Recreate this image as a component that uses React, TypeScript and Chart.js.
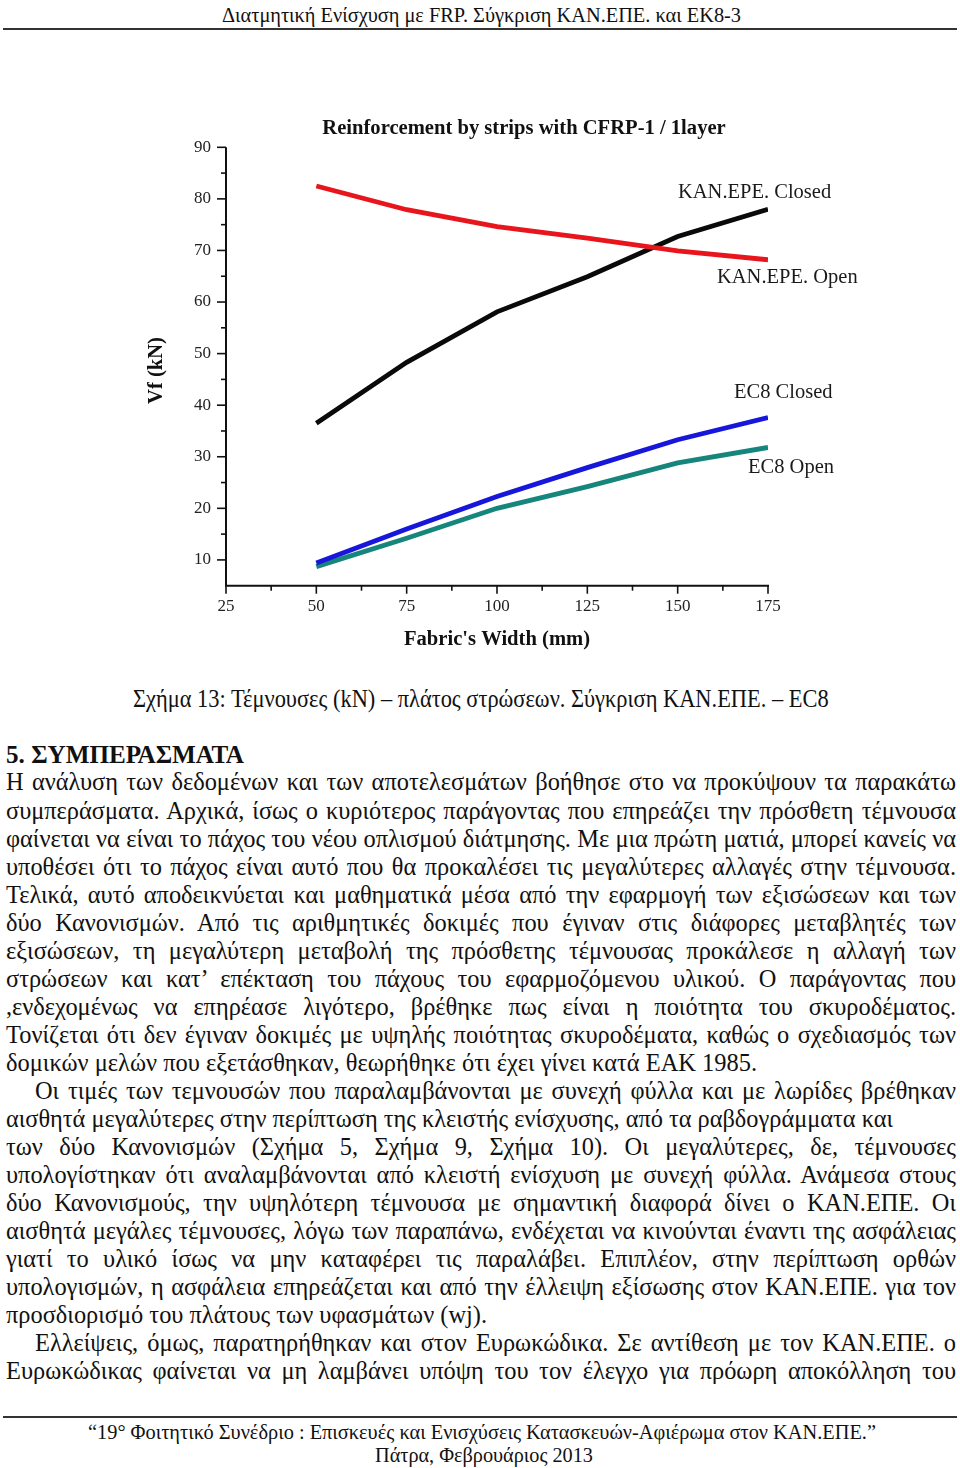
import React, { useEffect, useRef, useMemo } from 'react';
import { Chart, registerables } from 'chart.js';
Chart.register(...registerables);

const SERIF = '"Liberation Serif", "Times New Roman", Times, serif';

// ---- chart data ----
const fabricWidths = [50, 75, 100, 125, 150, 175];
const kanEpeOpen = [82.5, 77.9, 74.6, 72.4, 69.9, 68.2];
const kanEpeClosed = [36.5, 48.3, 58.1, 64.9, 72.7, 78.0];
const ec8Closed = [9.4, 16.0, 22.3, 27.9, 33.3, 37.6];
const ec8Open = [8.7, 14.2, 20.0, 24.2, 28.8, 31.8];
const xTickValues = [25, 50, 75, 100, 125, 150, 175];
const yTickValues = [10, 20, 30, 40, 50, 60, 70, 80, 90];
const xMinorTicks = [37.5, 62.5, 87.5, 112.5, 137.5, 162.5];
const yMinorTicks = [15, 25, 35, 45, 55, 65, 75, 85];
const seriesNames = ['KAN.EPE. Open', 'KAN.EPE. Closed', 'EC8 Closed', 'EC8 Open'];
const chartTitle = 'Reinforcement by strips with CFRP-1 / 1layer';
const xAxisTitle = "Fabric's Width (mm)";
const yAxisTitle = 'Vf (kN)';

// label offsets relative to each series' last point (style)
const labelOffsets = [
  { dx: -51, dy: 18 },
  { dx: -90, dy: -17 },
  { dx: -34, dy: -25 },
  { dx: -20, dy: 20 },
];
const seriesColors = ['#e8151d', '#0a0a0a', '#1717dc', '#16857b'];

const toPoints = (ys: number[]) => ys.map((y, i) => ({ x: fabricWidths[i], y }));

const decorPlugin = {
  id: 'decor',
  afterDraw(chart: any) {
    const { ctx, chartArea: a, scales } = chart;
    const x = scales.x;
    const y = scales.y;
    ctx.save();
    ctx.strokeStyle = '#111';
    ctx.lineWidth = 2;
    const top = y.getPixelForValue(90);
    ctx.beginPath();
    ctx.moveTo(a.left, top);
    ctx.lineTo(a.left, a.bottom);
    ctx.lineTo(a.right + 1, a.bottom);
    ctx.stroke();
    ctx.lineWidth = 1.6;
    const seg = (x1: number, y1: number, x2: number, y2: number) => {
      ctx.beginPath();
      ctx.moveTo(x1, y1);
      ctx.lineTo(x2, y2);
      ctx.stroke();
    };
    yTickValues.forEach((v) => { const p = y.getPixelForValue(v); seg(a.left - 9, p, a.left, p); });
    yMinorTicks.forEach((v) => { const p = y.getPixelForValue(v); seg(a.left - 5, p, a.left, p); });
    xTickValues.forEach((v) => { const p = x.getPixelForValue(v); seg(p, a.bottom, p, a.bottom + 8); });
    xMinorTicks.forEach((v) => { const p = x.getPixelForValue(v); seg(p, a.bottom, p, a.bottom + 5); });

    // titles
    ctx.fillStyle = '#111';
    ctx.textBaseline = 'middle';
    ctx.textAlign = 'center';
    ctx.font = `bold 20.6px ${SERIF}`;
    ctx.fillText(chartTitle, (a.left + a.right) / 2 + 27, a.top - 19);
    ctx.fillText(xAxisTitle, (a.left + a.right) / 2, a.bottom + 54);
    ctx.save();
    ctx.translate(a.left - 69, (a.top + a.bottom) / 2 + 4);
    ctx.rotate(-Math.PI / 2);
    ctx.fillText(yAxisTitle, 0, 0);
    ctx.restore();

    // series labels
    ctx.font = `20.5px ${SERIF}`;
    ctx.fillStyle = '#1a1a1a';
    ctx.textAlign = 'left';
    chart.data.datasets.forEach((ds: any, i: number) => {
      const meta = chart.getDatasetMeta(i);
      const last = meta.data[meta.data.length - 1];
      const o = labelOffsets[i];
      ctx.fillText(ds.label, last.x + o.dx, last.y + o.dy);
    });
    ctx.restore();
  },
};

function ChartBox() {
  const ref = useRef<HTMLCanvasElement>(null);
  useEffect(() => {
    const series = [kanEpeOpen, kanEpeClosed, ec8Closed, ec8Open];
    const chart = new Chart(ref.current!, {
      type: 'line',
      data: {
        datasets: series.map((s, i) => ({
          label: seriesNames[i],
          data: toPoints(s),
          borderColor: seriesColors[i],
          backgroundColor: seriesColors[i],
          borderWidth: 4.8,
          pointRadius: 0,
          tension: 0,
          fill: false,
        })),
      },
      options: {
        animation: false,
        responsive: false,
        devicePixelRatio: 1,
        layout: { padding: { top: 57.3, left: 0, right: 192, bottom: 44.3 } },
        plugins: { legend: { display: false }, tooltip: { enabled: false }, title: { display: false } },
        scales: {
          x: {
            type: 'linear',
            min: 25,
            max: 175,
            grid: { display: false, drawTicks: false },
            border: { display: false },
            afterBuildTicks: (s: any) => { s.ticks = xTickValues.map((v) => ({ value: v })); },
            afterFit: (s: any) => { s.height = 40; },
            ticks: {
              autoSkip: false,
              maxRotation: 0,
              padding: 11,
              color: '#222',
              font: { family: SERIF, size: 17 },
              callback: (v: any) => String(v),
            },
          },
          y: {
            type: 'linear',
            min: 5,
            max: 90,
            grid: { display: false, drawTicks: false },
            border: { display: false },
            afterBuildTicks: (s: any) => { s.ticks = yTickValues.map((v) => ({ value: v })); },
            afterFit: (s: any) => { s.width = 226; },
            ticks: {
              autoSkip: false,
              padding: 15,
              color: '#222',
              font: { family: SERIF, size: 17 },
              callback: (v: any) => String(v),
            },
          },
        },
      },
      plugins: [decorPlugin],
    });
    return () => chart.destroy();
  }, []);
  return (
    <div style={{ position: 'absolute', left: 0, top: 90, width: 960, height: 580 }}>
      <canvas ref={ref} width={960} height={580} style={{ width: 960, height: 580, display: 'block' }} />
    </div>
  );
}

// ---- page text ----
type TL = { t: string; cy: number; x0: number; x1: number; a: 'j' | 'l' | 'c'; b?: boolean; fs?: number };

const headerText = 'Διατμητική Ενίσχυση με FRP. Σύγκριση ΚΑΝ.ΕΠΕ. και ΕΚ8-3';
const captionText = 'Σχήμα 13: Τέμνουσες (kN) – πλάτος στρώσεων. Σύγκριση ΚΑΝ.ΕΠΕ. – EC8';
const footer1 = '“19° Φοιτητικό Συνέδριο : Επισκευές και Ενισχύσεις Κατασκευών-Αφιέρωμα στον ΚΑΝ.ΕΠΕ.”';
const footer2 = 'Πάτρα, Φεβρουάριος 2013';

const BODY_FS = 25;

const bodyLines: TL[] = [
  { t: '5. ΣΥΜΠΕΡΑΣΜΑΤΑ', cy: 755, x0: 6, x1: 244, a: 'l', b: true },
  { t: 'Η ανάλυση των δεδομένων και των αποτελεσμάτων βοήθησε στο να προκύψουν τα παρακάτω', cy: 782, x0: 6, x1: 956, a: 'j' },
  { t: 'συμπεράσματα. Αρχικά, ίσως ο κυριότερος παράγοντας που επηρεάζει την πρόσθετη τέμνουσα', cy: 811, x0: 6, x1: 956, a: 'j' },
  { t: 'φαίνεται να είναι το πάχος του νέου οπλισμού διάτμησης. Με μια πρώτη ματιά, μπορεί κανείς να', cy: 839, x0: 6, x1: 956, a: 'j' },
  { t: 'υποθέσει ότι το πάχος είναι αυτό που θα προκαλέσει τις μεγαλύτερες αλλαγές στην τέμνουσα.', cy: 867, x0: 6, x1: 956, a: 'j' },
  { t: 'Τελικά, αυτό αποδεικνύεται και μαθηματικά μέσα από την εφαρμογή των εξισώσεων και των', cy: 895, x0: 6, x1: 956, a: 'j' },
  { t: 'δύο Κανονισμών. Από τις αριθμητικές δοκιμές που έγιναν στις διάφορες μεταβλητές των', cy: 923, x0: 6, x1: 956, a: 'j' },
  { t: 'εξισώσεων, τη μεγαλύτερη μεταβολή της πρόσθετης τέμνουσας προκάλεσε η αλλαγή των', cy: 951, x0: 6, x1: 956, a: 'j' },
  { t: 'στρώσεων και κατ’ επέκταση του πάχους του εφαρμοζόμενου υλικού. Ο παράγοντας που', cy: 979, x0: 6, x1: 956, a: 'j' },
  { t: ',ενδεχομένως να επηρέασε λιγότερο, βρέθηκε πως είναι η ποιότητα του σκυροδέματος.', cy: 1007, x0: 6, x1: 956, a: 'j' },
  { t: 'Τονίζεται ότι δεν έγιναν δοκιμές με υψηλής ποιότητας σκυροδέματα, καθώς ο σχεδιασμός των', cy: 1035, x0: 6, x1: 956, a: 'j' },
  { t: 'δομικών μελών που εξετάσθηκαν, θεωρήθηκε ότι έχει γίνει κατά ΕΑΚ 1985.', cy: 1063, x0: 6, x1: 757, a: 'l' },
  { t: 'Οι τιμές των τεμνουσών που παραλαμβάνονται με συνεχή φύλλα και με λωρίδες βρέθηκαν', cy: 1091, x0: 35, x1: 956, a: 'j' },
  { t: 'αισθητά μεγαλύτερες στην περίπτωση της κλειστής ενίσχυσης, από τα ραβδογράμματα και', cy: 1119, x0: 6, x1: 893, a: 'l' },
  { t: 'των δύο Κανονισμών (Σχήμα 5, Σχήμα 9, Σχήμα 10). Οι μεγαλύτερες, δε, τέμνουσες', cy: 1147, x0: 6, x1: 956, a: 'j' },
  { t: 'υπολογίστηκαν ότι αναλαμβάνονται από κλειστή ενίσχυση με συνεχή φύλλα. Ανάμεσα στους', cy: 1175, x0: 6, x1: 956, a: 'j' },
  { t: 'δύο Κανονισμούς, την υψηλότερη τέμνουσα με σημαντική διαφορά δίνει ο ΚΑΝ.ΕΠΕ. Οι', cy: 1203, x0: 6, x1: 956, a: 'j' },
  { t: 'αισθητά μεγάλες τέμνουσες, λόγω των παραπάνω, ενδέχεται να κινούνται έναντι της ασφάλειας', cy: 1231, x0: 6, x1: 956, a: 'j' },
  { t: 'γιατί το υλικό ίσως να μην καταφέρει τις παραλάβει. Επιπλέον, στην περίπτωση ορθών', cy: 1259, x0: 6, x1: 956, a: 'j' },
  { t: 'υπολογισμών, η ασφάλεια επηρεάζεται και από την έλλειψη εξίσωσης στον ΚΑΝ.ΕΠΕ. για τον', cy: 1287, x0: 6, x1: 956, a: 'j' },
  { t: 'προσδιορισμό του πλάτους των υφασμάτων (wj).', cy: 1315, x0: 6, x1: 487, a: 'l' },
  { t: 'Ελλείψεις, όμως, παρατηρήθηκαν και στον Ευρωκώδικα. Σε αντίθεση με τον ΚΑΝ.ΕΠΕ. ο', cy: 1343, x0: 35, x1: 956, a: 'j' },
  { t: 'Ευρωκώδικας φαίνεται να μη λαμβάνει υπόψη του τον έλεγχο για πρόωρη αποκόλληση του', cy: 1371, x0: 6, x1: 956, a: 'j' },
];

const otherLines: TL[] = [
  { t: headerText, cy: 15, x0: 222, x1: 741, a: 'c', fs: 20 },
  { t: captionText, cy: 699, x0: 133, x1: 829, a: 'c', fs: BODY_FS },
  { t: footer1, cy: 1432, x0: 88, x1: 876, a: 'c', fs: 20 },
  { t: footer2, cy: 1455, x0: 375, x1: 593, a: 'c', fs: 20 },
];

let mctx: CanvasRenderingContext2D | null = null;
function textWidth(t: string, fs: number, bold?: boolean) {
  if (!mctx) mctx = document.createElement('canvas').getContext('2d');
  mctx!.font = `${bold ? 'bold ' : ''}${fs}px ${SERIF}`;
  return mctx!.measureText(t).width;
}

function TextLines() {
  const items = useMemo(() => {
    const all = [...otherLines, ...bodyLines];
    const leftScales = bodyLines
      .filter((l) => l.a === 'l' && !l.b)
      .map((l) => (l.x1 - l.x0) / textWidth(l.t, BODY_FS));
    const bodyScale = leftScales.reduce((s, v) => s + v, 0) / leftScales.length;
    return all.map((l) => {
      const fs = l.fs ?? BODY_FS;
      const natural = textWidth(l.t, fs, l.b);
      const target = l.x1 - l.x0;
      let scale = target / natural;
      if (l.a === 'j') scale = Math.min(bodyScale, scale * 0.999);
      return { ...l, fs, scale };
    });
  }, []);
  return (
    <>
      {items.map((l, i) => {
        const lh = Math.round(l.fs * 1.12);
        const base: React.CSSProperties = {
          position: 'absolute',
          left: l.x0,
          top: l.cy - lh / 2,
          height: lh,
          lineHeight: `${lh}px`,
          fontSize: l.fs,
          fontFamily: SERIF,
          fontWeight: l.b ? 'bold' : 'normal',
          color: '#111',
          transform: `scaleX(${l.scale})`,
          transformOrigin: 'left center',
        };
        if (l.a === 'j') {
          return (
            <div key={i} style={{ ...base, width: (l.x1 - l.x0) / l.scale, textAlign: 'justify', textAlignLast: 'justify', whiteSpace: 'normal', overflow: 'visible' }}>
              {l.t}
            </div>
          );
        }
        return (
          <div key={i} style={{ ...base, whiteSpace: 'nowrap' }}>
            {l.t}
          </div>
        );
      })}
    </>
  );
}

export default function App() {
  return (
    <div style={{ position: 'absolute', left: 0, top: 0, width: 960, height: 1468, background: '#fff', overflow: 'hidden' }}>
      <div style={{ position: 'absolute', left: 3, top: 28, width: 954, height: 2, background: '#333' }} />
      <div style={{ position: 'absolute', left: 3, top: 1416, width: 954, height: 2, background: '#333' }} />
      <ChartBox />
      <TextLines />
    </div>
  );
}
